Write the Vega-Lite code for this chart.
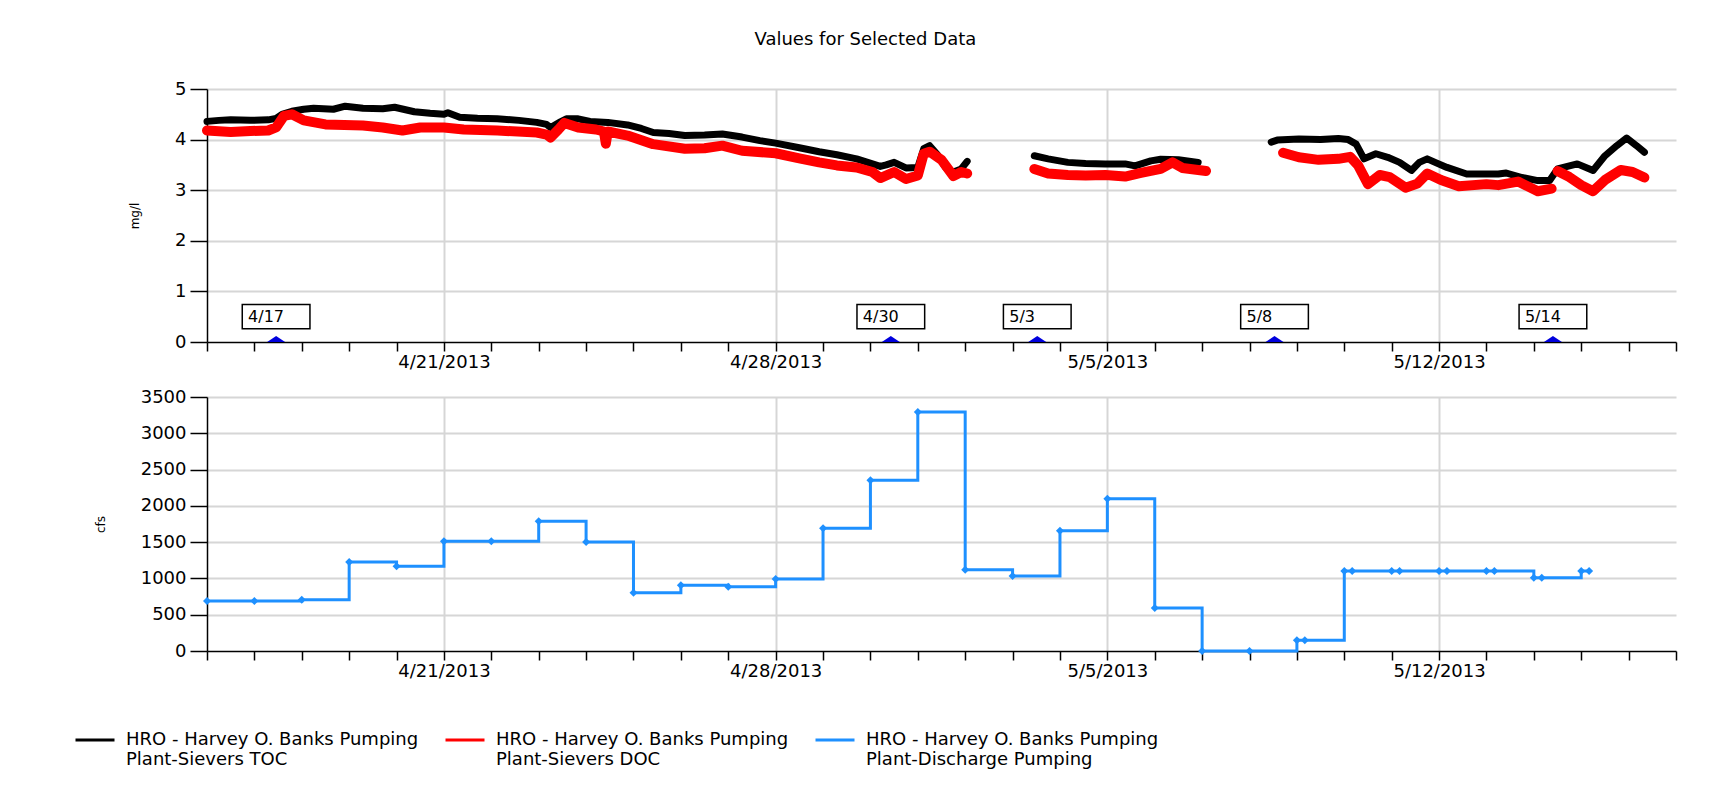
{
"$schema": "https://vega.github.io/schema/vega-lite/v6.json",
"background": "white",
"padding": {"left": 74, "top": 31, "right": 10, "bottom": 5},
"title": {"text": "Values for Selected Data", "fontSize": 18, "fontWeight": "normal", "color": "#000000", "anchor": "middle", "dx": -10, "offset": 17, "baseline": "alphabetic"},
"datasets": {
"names": [
{"s": "TOC", "name": "HRO - Harvey O. Banks Pumping Plant-Sievers TOC"},
{"s": "DOC", "name": "HRO - Harvey O. Banks Pumping Plant-Sievers DOC"},
{"s": "Q", "name": "HRO - Harvey O. Banks Pumping Plant-Discharge Pumping"}
],
"events": [
{"t": "2013-04-17T11:00", "label": "4/17"},
{"t": "2013-04-30T10:20", "label": "4/30"},
{"t": "2013-05-03T12:30", "label": "5/3"},
{"t": "2013-05-08T12:40", "label": "5/8"},
{"t": "2013-05-14T09:40", "label": "5/14"}
],
"flow": [
{"t": "2013-04-16T00:00", "v": 689, "s": "Q"},
{"t": "2013-04-17T00:00", "v": 689, "s": "Q"},
{"t": "2013-04-18T00:00", "v": 705, "s": "Q"},
{"t": "2013-04-19T00:00", "v": 1225, "s": "Q"},
{"t": "2013-04-20T00:00", "v": 1167, "s": "Q"},
{"t": "2013-04-21T00:00", "v": 1511, "s": "Q"},
{"t": "2013-04-22T00:00", "v": 1511, "s": "Q"},
{"t": "2013-04-23T00:00", "v": 1787, "s": "Q"},
{"t": "2013-04-24T00:00", "v": 1502, "s": "Q"},
{"t": "2013-04-25T00:00", "v": 804, "s": "Q"},
{"t": "2013-04-26T00:00", "v": 905, "s": "Q"},
{"t": "2013-04-27T00:00", "v": 886, "s": "Q"},
{"t": "2013-04-28T00:00", "v": 992, "s": "Q"},
{"t": "2013-04-29T00:00", "v": 1690, "s": "Q"},
{"t": "2013-04-30T00:00", "v": 2352, "s": "Q"},
{"t": "2013-05-01T00:00", "v": 3293, "s": "Q"},
{"t": "2013-05-02T00:00", "v": 1121, "s": "Q"},
{"t": "2013-05-03T00:00", "v": 1033, "s": "Q"},
{"t": "2013-05-04T00:00", "v": 1658, "s": "Q"},
{"t": "2013-05-05T00:00", "v": 2099, "s": "Q"},
{"t": "2013-05-06T00:00", "v": 593, "s": "Q"},
{"t": "2013-05-07T00:00", "v": 0, "s": "Q"},
{"t": "2013-05-08T00:00", "v": 0, "s": "Q"},
{"t": "2013-05-09T00:00", "v": 147, "s": "Q"},
{"t": "2013-05-09T04:00", "v": 147, "s": "Q"},
{"t": "2013-05-10T00:00", "v": 1102, "s": "Q"},
{"t": "2013-05-10T04:00", "v": 1102, "s": "Q"},
{"t": "2013-05-11T00:00", "v": 1102, "s": "Q"},
{"t": "2013-05-11T04:00", "v": 1102, "s": "Q"},
{"t": "2013-05-12T00:00", "v": 1102, "s": "Q"},
{"t": "2013-05-12T04:00", "v": 1102, "s": "Q"},
{"t": "2013-05-13T00:00", "v": 1102, "s": "Q"},
{"t": "2013-05-13T04:00", "v": 1102, "s": "Q"},
{"t": "2013-05-14T00:00", "v": 1010, "s": "Q"},
{"t": "2013-05-14T04:00", "v": 1010, "s": "Q"},
{"t": "2013-05-15T00:00", "v": 1102, "s": "Q"},
{"t": "2013-05-15T04:00", "v": 1102, "s": "Q"}
],
"wq": [
{"t": "2013-04-16T00:00", "v": 4.36, "s": "TOC", "g": 1},
{"t": "2013-04-16T06:00", "v": 4.38, "s": "TOC", "g": 1},
{"t": "2013-04-16T12:00", "v": 4.39, "s": "TOC", "g": 1},
{"t": "2013-04-16T22:00", "v": 4.38, "s": "TOC", "g": 1},
{"t": "2013-04-17T07:00", "v": 4.39, "s": "TOC", "g": 1},
{"t": "2013-04-17T11:00", "v": 4.42, "s": "TOC", "g": 1},
{"t": "2013-04-17T14:00", "v": 4.5, "s": "TOC", "g": 1},
{"t": "2013-04-17T19:00", "v": 4.56, "s": "TOC", "g": 1},
{"t": "2013-04-18T01:00", "v": 4.6, "s": "TOC", "g": 1},
{"t": "2013-04-18T06:00", "v": 4.62, "s": "TOC", "g": 1},
{"t": "2013-04-18T16:00", "v": 4.6, "s": "TOC", "g": 1},
{"t": "2013-04-18T22:00", "v": 4.66, "s": "TOC", "g": 1},
{"t": "2013-04-19T07:00", "v": 4.62, "s": "TOC", "g": 1},
{"t": "2013-04-19T17:00", "v": 4.61, "s": "TOC", "g": 1},
{"t": "2013-04-19T23:00", "v": 4.64, "s": "TOC", "g": 1},
{"t": "2013-04-20T09:00", "v": 4.55, "s": "TOC", "g": 1},
{"t": "2013-04-20T17:00", "v": 4.52, "s": "TOC", "g": 1},
{"t": "2013-04-21T00:00", "v": 4.5, "s": "TOC", "g": 1},
{"t": "2013-04-21T02:00", "v": 4.53, "s": "TOC", "g": 1},
{"t": "2013-04-21T08:00", "v": 4.44, "s": "TOC", "g": 1},
{"t": "2013-04-21T17:00", "v": 4.42, "s": "TOC", "g": 1},
{"t": "2013-04-22T03:00", "v": 4.41, "s": "TOC", "g": 1},
{"t": "2013-04-22T14:00", "v": 4.38, "s": "TOC", "g": 1},
{"t": "2013-04-22T23:00", "v": 4.34, "s": "TOC", "g": 1},
{"t": "2013-04-23T04:00", "v": 4.3, "s": "TOC", "g": 1},
{"t": "2013-04-23T06:00", "v": 4.24, "s": "TOC", "g": 1},
{"t": "2013-04-23T11:00", "v": 4.35, "s": "TOC", "g": 1},
{"t": "2013-04-23T14:00", "v": 4.41, "s": "TOC", "g": 1},
{"t": "2013-04-23T20:00", "v": 4.41, "s": "TOC", "g": 1},
{"t": "2013-04-24T02:00", "v": 4.36, "s": "TOC", "g": 1},
{"t": "2013-04-24T11:00", "v": 4.34, "s": "TOC", "g": 1},
{"t": "2013-04-24T21:00", "v": 4.29, "s": "TOC", "g": 1},
{"t": "2013-04-25T04:00", "v": 4.22, "s": "TOC", "g": 1},
{"t": "2013-04-25T10:00", "v": 4.14, "s": "TOC", "g": 1},
{"t": "2013-04-25T18:00", "v": 4.12, "s": "TOC", "g": 1},
{"t": "2013-04-26T02:00", "v": 4.08, "s": "TOC", "g": 1},
{"t": "2013-04-26T12:00", "v": 4.09, "s": "TOC", "g": 1},
{"t": "2013-04-26T21:00", "v": 4.11, "s": "TOC", "g": 1},
{"t": "2013-04-27T07:00", "v": 4.05, "s": "TOC", "g": 1},
{"t": "2013-04-27T16:00", "v": 3.98, "s": "TOC", "g": 1},
{"t": "2013-04-28T00:00", "v": 3.93, "s": "TOC", "g": 1},
{"t": "2013-04-28T12:00", "v": 3.84, "s": "TOC", "g": 1},
{"t": "2013-04-28T22:00", "v": 3.76, "s": "TOC", "g": 1},
{"t": "2013-04-29T07:00", "v": 3.7, "s": "TOC", "g": 1},
{"t": "2013-04-29T17:00", "v": 3.62, "s": "TOC", "g": 1},
{"t": "2013-04-30T01:00", "v": 3.52, "s": "TOC", "g": 1},
{"t": "2013-04-30T05:00", "v": 3.47, "s": "TOC", "g": 1},
{"t": "2013-04-30T08:00", "v": 3.5, "s": "TOC", "g": 1},
{"t": "2013-04-30T12:00", "v": 3.55, "s": "TOC", "g": 1},
{"t": "2013-04-30T18:00", "v": 3.44, "s": "TOC", "g": 1},
{"t": "2013-05-01T00:00", "v": 3.45, "s": "TOC", "g": 1},
{"t": "2013-05-01T03:00", "v": 3.82, "s": "TOC", "g": 1},
{"t": "2013-05-01T06:00", "v": 3.88, "s": "TOC", "g": 1},
{"t": "2013-05-01T10:00", "v": 3.7, "s": "TOC", "g": 1},
{"t": "2013-05-01T14:00", "v": 3.45, "s": "TOC", "g": 1},
{"t": "2013-05-01T18:00", "v": 3.36, "s": "TOC", "g": 1},
{"t": "2013-05-01T22:00", "v": 3.42, "s": "TOC", "g": 1},
{"t": "2013-05-02T01:00", "v": 3.57, "s": "TOC", "g": 1},
{"t": "2013-05-03T11:00", "v": 3.68, "s": "TOC", "g": 2},
{"t": "2013-05-03T18:00", "v": 3.62, "s": "TOC", "g": 2},
{"t": "2013-05-04T04:00", "v": 3.55, "s": "TOC", "g": 2},
{"t": "2013-05-04T13:00", "v": 3.53, "s": "TOC", "g": 2},
{"t": "2013-05-04T23:00", "v": 3.52, "s": "TOC", "g": 2},
{"t": "2013-05-05T09:00", "v": 3.52, "s": "TOC", "g": 2},
{"t": "2013-05-05T14:00", "v": 3.48, "s": "TOC", "g": 2},
{"t": "2013-05-05T22:00", "v": 3.58, "s": "TOC", "g": 2},
{"t": "2013-05-06T03:00", "v": 3.61, "s": "TOC", "g": 2},
{"t": "2013-05-06T12:00", "v": 3.6, "s": "TOC", "g": 2},
{"t": "2013-05-06T22:00", "v": 3.55, "s": "TOC", "g": 2},
{"t": "2013-05-08T11:00", "v": 3.95, "s": "TOC", "g": 3},
{"t": "2013-05-08T14:00", "v": 3.99, "s": "TOC", "g": 3},
{"t": "2013-05-09T01:00", "v": 4.01, "s": "TOC", "g": 3},
{"t": "2013-05-09T12:00", "v": 4.0, "s": "TOC", "g": 3},
{"t": "2013-05-09T21:00", "v": 4.02, "s": "TOC", "g": 3},
{"t": "2013-05-10T02:00", "v": 4.0, "s": "TOC", "g": 3},
{"t": "2013-05-10T06:00", "v": 3.91, "s": "TOC", "g": 3},
{"t": "2013-05-10T10:00", "v": 3.62, "s": "TOC", "g": 3},
{"t": "2013-05-10T16:00", "v": 3.72, "s": "TOC", "g": 3},
{"t": "2013-05-10T22:00", "v": 3.65, "s": "TOC", "g": 3},
{"t": "2013-05-11T04:00", "v": 3.55, "s": "TOC", "g": 3},
{"t": "2013-05-11T10:00", "v": 3.39, "s": "TOC", "g": 3},
{"t": "2013-05-11T14:00", "v": 3.55, "s": "TOC", "g": 3},
{"t": "2013-05-11T18:00", "v": 3.62, "s": "TOC", "g": 3},
{"t": "2013-05-11T22:00", "v": 3.55, "s": "TOC", "g": 3},
{"t": "2013-05-12T04:00", "v": 3.45, "s": "TOC", "g": 3},
{"t": "2013-05-12T14:00", "v": 3.32, "s": "TOC", "g": 3},
{"t": "2013-05-13T00:00", "v": 3.32, "s": "TOC", "g": 3},
{"t": "2013-05-13T06:00", "v": 3.32, "s": "TOC", "g": 3},
{"t": "2013-05-13T10:00", "v": 3.34, "s": "TOC", "g": 3},
{"t": "2013-05-13T18:00", "v": 3.25, "s": "TOC", "g": 3},
{"t": "2013-05-14T02:00", "v": 3.19, "s": "TOC", "g": 3},
{"t": "2013-05-14T08:00", "v": 3.19, "s": "TOC", "g": 3},
{"t": "2013-05-14T12:00", "v": 3.42, "s": "TOC", "g": 3},
{"t": "2013-05-14T22:00", "v": 3.52, "s": "TOC", "g": 3},
{"t": "2013-05-15T06:00", "v": 3.39, "s": "TOC", "g": 3},
{"t": "2013-05-15T12:00", "v": 3.68, "s": "TOC", "g": 3},
{"t": "2013-05-15T18:00", "v": 3.88, "s": "TOC", "g": 3},
{"t": "2013-05-15T23:00", "v": 4.03, "s": "TOC", "g": 3},
{"t": "2013-05-16T04:00", "v": 3.88, "s": "TOC", "g": 3},
{"t": "2013-05-16T08:00", "v": 3.75, "s": "TOC", "g": 3},
{"t": "2013-04-16T00:00", "v": 4.18, "s": "DOC", "g": 1},
{"t": "2013-04-16T12:00", "v": 4.15, "s": "DOC", "g": 1},
{"t": "2013-04-16T22:00", "v": 4.17, "s": "DOC", "g": 1},
{"t": "2013-04-17T07:00", "v": 4.18, "s": "DOC", "g": 1},
{"t": "2013-04-17T11:00", "v": 4.24, "s": "DOC", "g": 1},
{"t": "2013-04-17T15:00", "v": 4.47, "s": "DOC", "g": 1},
{"t": "2013-04-17T19:00", "v": 4.5, "s": "DOC", "g": 1},
{"t": "2013-04-18T01:00", "v": 4.38, "s": "DOC", "g": 1},
{"t": "2013-04-18T12:00", "v": 4.3, "s": "DOC", "g": 1},
{"t": "2013-04-19T07:00", "v": 4.28, "s": "DOC", "g": 1},
{"t": "2013-04-19T17:00", "v": 4.24, "s": "DOC", "g": 1},
{"t": "2013-04-20T03:00", "v": 4.18, "s": "DOC", "g": 1},
{"t": "2013-04-20T12:00", "v": 4.24, "s": "DOC", "g": 1},
{"t": "2013-04-21T00:00", "v": 4.24, "s": "DOC", "g": 1},
{"t": "2013-04-21T10:00", "v": 4.2, "s": "DOC", "g": 1},
{"t": "2013-04-22T03:00", "v": 4.18, "s": "DOC", "g": 1},
{"t": "2013-04-22T23:00", "v": 4.14, "s": "DOC", "g": 1},
{"t": "2013-04-23T04:00", "v": 4.1, "s": "DOC", "g": 1},
{"t": "2013-04-23T06:00", "v": 4.04, "s": "DOC", "g": 1},
{"t": "2013-04-23T10:00", "v": 4.2, "s": "DOC", "g": 1},
{"t": "2013-04-23T13:00", "v": 4.33, "s": "DOC", "g": 1},
{"t": "2013-04-23T20:00", "v": 4.24, "s": "DOC", "g": 1},
{"t": "2013-04-24T05:00", "v": 4.2, "s": "DOC", "g": 1},
{"t": "2013-04-24T09:00", "v": 4.16, "s": "DOC", "g": 1},
{"t": "2013-04-24T10:00", "v": 3.92, "s": "DOC", "g": 1},
{"t": "2013-04-24T11:00", "v": 4.16, "s": "DOC", "g": 1},
{"t": "2013-04-24T21:00", "v": 4.08, "s": "DOC", "g": 1},
{"t": "2013-04-25T10:00", "v": 3.91, "s": "DOC", "g": 1},
{"t": "2013-04-26T02:00", "v": 3.82, "s": "DOC", "g": 1},
{"t": "2013-04-26T12:00", "v": 3.83, "s": "DOC", "g": 1},
{"t": "2013-04-26T21:00", "v": 3.88, "s": "DOC", "g": 1},
{"t": "2013-04-27T07:00", "v": 3.78, "s": "DOC", "g": 1},
{"t": "2013-04-28T00:00", "v": 3.73, "s": "DOC", "g": 1},
{"t": "2013-04-28T12:00", "v": 3.63, "s": "DOC", "g": 1},
{"t": "2013-04-28T22:00", "v": 3.55, "s": "DOC", "g": 1},
{"t": "2013-04-29T07:00", "v": 3.49, "s": "DOC", "g": 1},
{"t": "2013-04-29T17:00", "v": 3.45, "s": "DOC", "g": 1},
{"t": "2013-04-30T01:00", "v": 3.36, "s": "DOC", "g": 1},
{"t": "2013-04-30T05:00", "v": 3.24, "s": "DOC", "g": 1},
{"t": "2013-04-30T12:00", "v": 3.36, "s": "DOC", "g": 1},
{"t": "2013-04-30T18:00", "v": 3.22, "s": "DOC", "g": 1},
{"t": "2013-05-01T00:00", "v": 3.29, "s": "DOC", "g": 1},
{"t": "2013-05-01T03:00", "v": 3.72, "s": "DOC", "g": 1},
{"t": "2013-05-01T06:00", "v": 3.76, "s": "DOC", "g": 1},
{"t": "2013-05-01T12:00", "v": 3.6, "s": "DOC", "g": 1},
{"t": "2013-05-01T18:00", "v": 3.28, "s": "DOC", "g": 1},
{"t": "2013-05-01T22:00", "v": 3.36, "s": "DOC", "g": 1},
{"t": "2013-05-02T01:00", "v": 3.33, "s": "DOC", "g": 1},
{"t": "2013-05-03T11:00", "v": 3.42, "s": "DOC", "g": 2},
{"t": "2013-05-03T18:00", "v": 3.33, "s": "DOC", "g": 2},
{"t": "2013-05-04T04:00", "v": 3.3, "s": "DOC", "g": 2},
{"t": "2013-05-04T13:00", "v": 3.29, "s": "DOC", "g": 2},
{"t": "2013-05-04T23:00", "v": 3.3, "s": "DOC", "g": 2},
{"t": "2013-05-05T09:00", "v": 3.27, "s": "DOC", "g": 2},
{"t": "2013-05-05T17:00", "v": 3.34, "s": "DOC", "g": 2},
{"t": "2013-05-06T03:00", "v": 3.42, "s": "DOC", "g": 2},
{"t": "2013-05-06T09:00", "v": 3.55, "s": "DOC", "g": 2},
{"t": "2013-05-06T14:00", "v": 3.44, "s": "DOC", "g": 2},
{"t": "2013-05-07T02:00", "v": 3.38, "s": "DOC", "g": 2},
{"t": "2013-05-08T17:00", "v": 3.74, "s": "DOC", "g": 3},
{"t": "2013-05-09T01:00", "v": 3.65, "s": "DOC", "g": 3},
{"t": "2013-05-09T11:00", "v": 3.6, "s": "DOC", "g": 3},
{"t": "2013-05-09T21:00", "v": 3.62, "s": "DOC", "g": 3},
{"t": "2013-05-10T03:00", "v": 3.66, "s": "DOC", "g": 3},
{"t": "2013-05-10T07:00", "v": 3.49, "s": "DOC", "g": 3},
{"t": "2013-05-10T12:00", "v": 3.12, "s": "DOC", "g": 3},
{"t": "2013-05-10T18:00", "v": 3.3, "s": "DOC", "g": 3},
{"t": "2013-05-10T23:00", "v": 3.26, "s": "DOC", "g": 3},
{"t": "2013-05-11T07:00", "v": 3.05, "s": "DOC", "g": 3},
{"t": "2013-05-11T13:00", "v": 3.13, "s": "DOC", "g": 3},
{"t": "2013-05-11T18:00", "v": 3.33, "s": "DOC", "g": 3},
{"t": "2013-05-12T01:00", "v": 3.2, "s": "DOC", "g": 3},
{"t": "2013-05-12T10:00", "v": 3.08, "s": "DOC", "g": 3},
{"t": "2013-05-13T00:00", "v": 3.12, "s": "DOC", "g": 3},
{"t": "2013-05-13T06:00", "v": 3.1, "s": "DOC", "g": 3},
{"t": "2013-05-13T16:00", "v": 3.17, "s": "DOC", "g": 3},
{"t": "2013-05-14T02:00", "v": 2.98, "s": "DOC", "g": 3},
{"t": "2013-05-14T09:00", "v": 3.03, "s": "DOC", "g": 3},
{"t": "2013-05-14T12:00", "v": 3.38, "s": "DOC", "g": 4},
{"t": "2013-05-14T18:00", "v": 3.26, "s": "DOC", "g": 4},
{"t": "2013-05-15T00:00", "v": 3.1, "s": "DOC", "g": 4},
{"t": "2013-05-15T06:00", "v": 2.98, "s": "DOC", "g": 4},
{"t": "2013-05-15T12:00", "v": 3.2, "s": "DOC", "g": 4},
{"t": "2013-05-15T20:00", "v": 3.4, "s": "DOC", "g": 4},
{"t": "2013-05-16T02:00", "v": 3.36, "s": "DOC", "g": 4},
{"t": "2013-05-16T08:00", "v": 3.25, "s": "DOC", "g": 4}
]
},
"config": {
"font": "DejaVu Sans",
"view": {"stroke": null},
"axis": {"labelFontSize": 18, "labelColor": "#000000", "domainColor": "#000000", "domainWidth": 1.5, "tickColor": "#000000", "tickWidth": 1.5, "gridColor": "#d6d6d6", "gridWidth": 2, "titleFontSize": 12, "titleFontWeight": "normal", "titleColor": "#000000"},
"legend": {"orient": "none", "direction": "horizontal", "legendX": -133, "legendY": 630, "symbolType": "stroke", "symbolSize": 1521, "symbolStrokeWidth": 3, "labelFontSize": 18, "labelColor": "#000000", "labelOffset": 10, "columnPadding": 20, "labelLimit": 400, "padding": 0}
},
"spacing": 55,
"bounds": "flush",
"resolve": {"scale": {"color": "shared"}, "legend": {"color": "shared"}},
"vconcat": [
{
"width": 1469,
"height": 253,
"encoding": {
"x": {"field": "t", "type": "temporal", "title": null,
"scale": {"domain": [{"year": 2013, "month": 4, "date": 16}, {"year": 2013, "month": 5, "date": 17}], "nice": false},
"axis": {"tickCount": {"interval": "day", "step": 1}, "labelExpr": "day(datum.value) == 0 ? timeFormat(datum.value, '%-m/%-d/%Y') : ''", "labelOverlap": false, "labelFlush": false, "tickSize": 9, "labelPadding": 2, "gridOpacity": {"condition": {"test": "day(datum.value) == 0", "value": 1}, "value": 0}}}
},
"layer": [
{
"data": {"name": "wq"},
"transform": [{"filter": "datum.s == 'TOC'"}, {"lookup": "s", "from": {"data": {"name": "names"}, "key": "s", "fields": ["name"]}}],
"mark": {"type": "line", "strokeWidth": 7, "strokeJoin": "round", "strokeCap": "round"},
"encoding": {
"y": {"field": "v", "type": "quantitative", "title": "mg/l", "scale": {"domain": [0, 5], "nice": false},
"axis": {"values": [0, 1, 2, 3, 4, 5], "tickSize": 17, "labelPadding": 4, "titlePadding": 33, "gridOpacity": {"condition": {"test": "datum.value == 0", "value": 0}, "value": 1}}},
"color": {"field": "name", "type": "nominal", "title": null,
"scale": {"domain": ["HRO - Harvey O. Banks Pumping Plant-Sievers TOC", "HRO - Harvey O. Banks Pumping Plant-Sievers DOC", "HRO - Harvey O. Banks Pumping Plant-Discharge Pumping"], "range": ["#000000", "#ff0000", "#1e90ff"]},
"legend": {"labelExpr": "[slice(datum.label, 0, 29), slice(datum.label, 30)]"}},
"detail": {"field": "g"}
}
},
{
"data": {"name": "wq"},
"transform": [{"filter": "datum.s == 'DOC'"}, {"lookup": "s", "from": {"data": {"name": "names"}, "key": "s", "fields": ["name"]}}],
"mark": {"type": "line", "strokeWidth": 10, "strokeJoin": "round", "strokeCap": "round"},
"encoding": {
"y": {"field": "v", "type": "quantitative", "title": "mg/l"},
"color": {"field": "name", "type": "nominal", "title": null,
"legend": {"labelExpr": "[slice(datum.label, 0, 29), slice(datum.label, 30)]"}},
"detail": {"field": "g"}
}
},
{
"data": {"name": "events"},
"mark": {"type": "point", "shape": "M-1,-0.359L1,-0.359L1,0.359L-1,0.359Z", "size": 4583, "filled": true, "fill": "#ffffff", "stroke": "#000000", "strokeWidth": 1.5, "opacity": 1},
"encoding": {"y": {"datum": 0.5, "type": "quantitative", "title": "mg/l"}}
},
{
"data": {"name": "events"},
"mark": {"type": "text", "align": "left", "baseline": "middle", "dx": -28, "fontSize": 16, "color": "#000000"},
"encoding": {"y": {"datum": 0.5, "type": "quantitative", "title": "mg/l"}, "text": {"field": "label"}}
},
{
"data": {"name": "events"},
"mark": {"type": "point", "shape": "M-1,0L1,0L0,-0.66Z", "size": 324, "filled": true, "color": "#0000dd", "opacity": 1},
"encoding": {"y": {"datum": 0, "type": "quantitative", "title": "mg/l"}}
}
]
},
{
"width": 1469,
"height": 254,
"data": {"name": "flow"},
"transform": [{"lookup": "s", "from": {"data": {"name": "names"}, "key": "s", "fields": ["name"]}}],
"mark": {"type": "line", "interpolate": "step-after", "strokeWidth": 3, "point": {"filled": true, "shape": "diamond", "size": 64, "opacity": 1}},
"encoding": {
"x": {"field": "t", "type": "temporal", "title": null,
"scale": {"domain": [{"year": 2013, "month": 4, "date": 16}, {"year": 2013, "month": 5, "date": 17}], "nice": false},
"axis": {"tickCount": {"interval": "day", "step": 1}, "labelExpr": "day(datum.value) == 0 ? timeFormat(datum.value, '%-m/%-d/%Y') : ''", "labelOverlap": false, "labelFlush": false, "tickSize": 9, "labelPadding": 2, "gridOpacity": {"condition": {"test": "day(datum.value) == 0", "value": 1}, "value": 0}}},
"y": {"field": "v", "type": "quantitative", "title": "cfs", "scale": {"domain": [0, 3500], "nice": false},
"axis": {"values": [0, 500, 1000, 1500, 2000, 2500, 3000, 3500], "format": "d", "tickSize": 17, "labelPadding": 4, "titlePadding": 33, "gridOpacity": {"condition": {"test": "datum.value == 0", "value": 0}, "value": 1}}},
"color": {"field": "name", "type": "nominal", "title": null,
"legend": {"labelExpr": "[slice(datum.label, 0, 29), slice(datum.label, 30)]"}}
}
}
]
}
